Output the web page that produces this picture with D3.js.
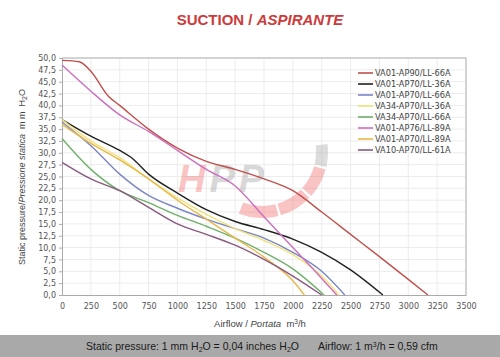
<!DOCTYPE html>
<html lang="en">
<head>
<meta charset="UTF-8">
<title>Suction / Aspirante</title>
<script src="https://d3js.org/d3.v7.min.js"></script>
<style>
    body { margin: 0; background: #fff; font-family: "Liberation Sans", Arial, sans-serif; }
    svg { display: block; }
    .axis text { fill: #555; font-size: 8px; font-family: "DejaVu Sans", sans-serif; }
    .axis path, .axis line { stroke: #aaa; }
    .grid line { stroke: #ececec; }
    .legend text { font-size: 8.2px; fill: #444; font-family: "DejaVu Sans", sans-serif; }
</style>
</head>
<body>
<svg width="500" height="357"></svg>
<script>
// pressure (mm H2O) vs airflow (m3/h)
const seriesNames = ["VA01-AP90/LL-66A", "VA01-AP70/LL-36A", "VA01-AP70/LL-66A", "VA34-AP70/LL-36A",
                     "VA34-AP70/LL-66A", "VA01-AP76/LL-89A", "VA01-AP70/LL-89A", "VA10-AP70/LL-61A"];
const seriesColors = ["#c0504d", "#222222", "#7b86c4", "#f2e27a", "#6fb06a", "#cc6fc0", "#e9b84a", "#8a5a80"];

const ap90_66 = [[0,49.5],[150,49.2],[250,47.2],[400,42],[500,40],[750,35],[1000,31],[1250,28.2],[1500,26.5],[1750,24.5],[2000,22],[2250,17.5],[2500,12.8],[2750,8.1],[3000,3.3],[3170,0]];
const ap70_36 = [[0,37],[250,33.5],[500,30.5],[600,29],[750,25.5],[1000,21.5],[1250,18],[1500,15.5],[1750,13.8],[2000,11.8],[2250,9],[2500,5.3],[2780,0]];
const ap70_66 = [[0,36.5],[250,31.5],[500,25.5],[750,21],[1000,18.3],[1250,16],[1500,14],[1750,12],[2000,9],[2250,5],[2450,0]];
const va34_36 = [[0,37],[250,32.5],[500,29],[750,24.5],[1000,20.5],[1250,17],[1500,14],[1750,11.5],[2000,8.5],[2250,4],[2400,0]];
const va34_66 = [[0,33],[250,26.5],[500,22],[750,19.5],[1000,16.8],[1250,14.5],[1500,12],[1750,9],[2000,5.5],[2270,0]];
const ap76_89 = [[0,48.5],[250,43],[500,38],[750,34.5],[1000,30.5],[1250,26.5],[1500,23],[1750,16.5],[2000,10],[2250,3.5],[2380,0]];
const ap70_89 = [[0,36],[250,32],[500,28.5],[750,24.5],[1000,20],[1250,16],[1500,12],[1750,8],[2000,3],[2100,0]];
const va10_61 = [[0,28],[250,24.5],[500,22],[750,18.5],[1000,15],[1250,12.8],[1500,10.5],[1750,7.5],[2000,4],[2250,0]];

const seriesData = [ap90_66, ap70_36, ap70_66, va34_36, va34_66, ap76_89, ap70_89, va10_61];

const xTicks = d3.range(0, 3501, 250);
const yTicks = d3.range(0, 50.01, 2.5);

const svg = d3.select("svg");
const margin = {left: 62, right: 34, top: 58, bottom: 62};
const width = 500, height = 357;

const x = d3.scaleLinear().domain([0, 3500]).range([margin.left, width - margin.right]);
const y = d3.scaleLinear().domain([0, 50]).range([height - margin.bottom, margin.top]);

// title
const title = svg.append("text")
    .attr("x", 260).attr("y", 25)
    .attr("text-anchor", "middle")
    .style("font-family", "'Liberation Sans Narrow', 'Arial Narrow', sans-serif")
    .style("font-weight", "bold")
    .style("font-size", "15px")
    .style("fill", "#cc3b3b");
title.append("tspan").text("SUCTION / ");
title.append("tspan").style("font-style", "italic").text("ASPIRANTE");

// grid
svg.append("g").attr("class", "grid")
    .selectAll("line").data(xTicks.slice(1)).join("line")
    .attr("x1", d => x(d)).attr("x2", d => x(d))
    .attr("y1", y(0)).attr("y2", y(50));
svg.append("g").attr("class", "grid")
    .selectAll("line").data(yTicks.slice(1)).join("line")
    .attr("x1", x(0)).attr("x2", x(3500))
    .attr("y1", d => y(d)).attr("y2", d => y(d));

// frame top/right
svg.append("path")
    .attr("d", `M${x(0)},${y(50)}H${x(3500)}V${y(0)}`)
    .attr("fill", "none").attr("stroke", "#c8c8c8").attr("stroke-width", 1.5);

// watermark
const wm = svg.append("g").attr("opacity", 0.33);
const arc = d3.arc().innerRadius(54).outerRadius(66);
const cx = 262, cy = 152;
wm.append("path").attr("transform", `translate(${cx},${cy})`)
    .attr("d", arc({startAngle: 1.45, endAngle: 1.8})).attr("fill", "#9a9a9a");
[[1.84, 2.3], [2.34, 2.85], [2.89, 3.5]].forEach(a => {
    wm.append("path").attr("transform", `translate(${cx},${cy})`)
        .attr("d", arc({startAngle: a[0], endAngle: a[1]})).attr("fill", "#f05050");
});
const hpp = wm.append("text").attr("x", 178).attr("y", 192)
    .style("font-size", "38px").style("font-weight", "bold").style("font-style", "italic")
    .style("letter-spacing", "4px");
hpp.append("tspan").attr("fill", "#f05050").text("H");
hpp.append("tspan").attr("fill", "#8a8a8a").text("PP");

// axes
const fmt = d => d3.format(".1f")(d).replace(".", ",");
svg.append("g").attr("class", "axis")
    .attr("transform", `translate(${margin.left},0)`)
    .call(d3.axisLeft(y).tickValues(yTicks).tickFormat(fmt).tickSize(3).tickPadding(3));
svg.append("g").attr("class", "axis")
    .attr("transform", `translate(0,${y(0)})`)
    .call(d3.axisBottom(x).tickValues(xTicks).tickFormat(d3.format("d")).tickSize(0).tickPadding(8));

// curves
const line = d3.line().x(d => x(d[0])).y(d => y(d[1])).curve(d3.curveMonotoneX);
svg.append("g").selectAll("path").data(seriesData).join("path")
    .attr("d", line)
    .attr("fill", "none")
    .attr("stroke", (d, i) => seriesColors[i])
    .attr("stroke-width", 1.4);

// legend
const legend = svg.append("g").attr("class", "legend")
    .attr("transform", "translate(358,73)");
const row = legend.selectAll("g").data(seriesNames).join("g")
    .attr("transform", (d, i) => `translate(0,${i * 11})`);
row.append("line").attr("x1", 0).attr("x2", 15)
    .attr("stroke", (d, i) => seriesColors[i]).attr("stroke-width", 1.6);
row.append("text").attr("x", 17).attr("dy", "0.35em").text(d => d);

// axis titles
const yt = svg.append("text")
    .attr("transform", "translate(25,177) rotate(-90)")
    .attr("text-anchor", "middle")
    .style("white-space", "pre")
    .style("font-size", "9px").style("fill", "#444");
yt.append("tspan").text("Static pressure/");
yt.append("tspan").style("font-style", "italic").text("Pressione statica");
yt.append("tspan").text("  m m  H");
yt.append("tspan").attr("dy", 2).style("font-size", "7px").text("2");
yt.append("tspan").attr("dy", -2).text("O");

const xt = svg.append("text")
    .attr("x", 260).attr("y", 327)
    .attr("text-anchor", "middle")
    .style("white-space", "pre")
    .style("font-size", "9.5px").style("fill", "#444");
xt.append("tspan").text("Airflow / ");
xt.append("tspan").style("font-style", "italic").text("Portata");
xt.append("tspan").text("  m");
xt.append("tspan").attr("dy", -3).style("font-size", "6.5px").text("3");
xt.append("tspan").attr("dy", 3).text("/h");

// footer band
svg.append("rect").attr("x", 0).attr("y", 335).attr("width", width).attr("height", 22)
    .attr("fill", "#a9a9a9");
const ft = svg.append("text").attr("x", 86).attr("y", 350)
    .style("font-size", "10.5px").style("fill", "#1a1a1a");
ft.append("tspan").text("Static pressure: 1 mm H");
ft.append("tspan").attr("dy", 2).style("font-size", "7px").text("2");
ft.append("tspan").attr("dy", -2).text("O = 0,04 inches H");
ft.append("tspan").attr("dy", 2).style("font-size", "7px").text("2");
ft.append("tspan").attr("dy", -2).text("O");
const ft2 = svg.append("text").attr("x", 318).attr("y", 350)
    .style("font-size", "10.5px").style("fill", "#1a1a1a");
ft2.append("tspan").text("Airflow: 1 m");
ft2.append("tspan").attr("dy", -3).style("font-size", "7px").text("3");
ft2.append("tspan").attr("dy", 3).text("/h = 0,59 cfm");
</script>
</body>
</html>
